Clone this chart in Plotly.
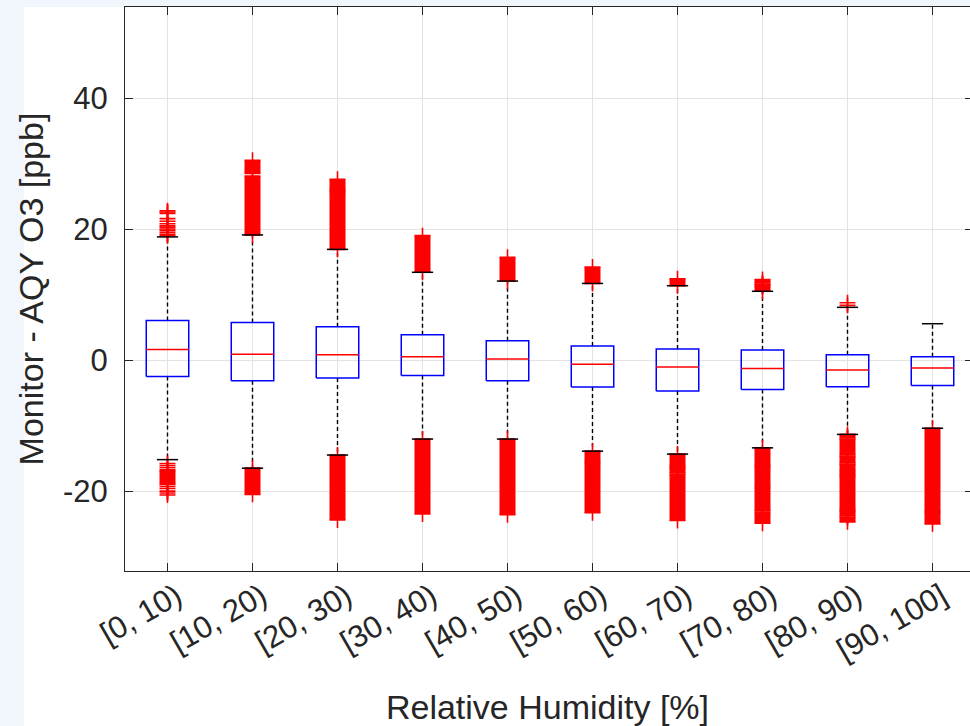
import plotly.graph_objects as go

# ---------------- data ----------------
categories = ["[0, 10)", "[10, 20)", "[20, 30)", "[30, 40)", "[40, 50)",
              "[50, 60)", "[60, 70)", "[70, 80)", "[80, 90)", "[90, 100]"]
q1 = [-2.5, -3.15, -2.75, -2.35, -3.15, -4.1, -4.73, -4.48, -4.07, -3.87]
medians = [1.6, 0.9, 0.8, 0.5, 0.15, -0.63, -1.07, -1.27, -1.53, -1.22]
q3 = [6.05, 5.75, 5.1, 3.87, 2.95, 2.14, 1.68, 1.53, 0.81, 0.51]
whisker_hi = [18.8, 19.1, 16.9, 13.4, 12.06, 11.7, 11.35, 10.5, 8.05, 5.55]
whisker_lo = [-15.2, -16.5, -14.5, -12.06, -12.06, -13.9, -14.35, -13.4, -11.35, -10.4]

y_tick_vals = [-20, 0, 20, 40]
y_tick_text = ["-20", "0", "20", "40"]

# dense outlier clusters (group number, lowest value, highest value)
band_group = [2, 2, 3, 3, 3, 4, 5, 6, 7, 8, 8, 8,
              1, 2, 3, 4, 5, 6, 6, 7, 7, 7, 7, 8, 8, 8, 8,
              9, 9, 9, 9, 9, 9, 9, 9, 10, 10]
band_lo = [19.1, 28.5, 16.9, 25.6, 26.1, 13.4, 12.06, 11.7, 11.35, 10.5, 11.4, 11.8,
           -19.0, -20.5, -24.4, -23.5, -23.6, -15.6, -23.3, -16.1, -16.4, -17.2, -24.5,
           -16.1, -19.3, -23.0, -24.9,
           -11.85, -14.5, -15.7, -16.85, -17.6, -22.9, -23.8, -24.7, -23.1, -25.0]
band_hi = [28.1, 30.5, 25.4, 25.9, 27.6, 19.0, 15.7, 14.2, 12.4, 11.2, 11.6, 12.3,
           -16.9, -16.5, -14.5, -12.06, -12.06, -13.9, -15.8, -14.35, -16.3, -16.6, -17.4,
           -13.4, -16.3, -19.5, -23.2,
           -11.35, -12.05, -14.7, -15.9, -17.05, -17.8, -23.1, -24.0, -10.4, -23.3]

# isolated outliers (group number, value)
out_group = [1, 1, 1, 1, 1, 1, 1, 1, 1, 1, 1, 1, 1,
             1, 1, 1, 1, 1, 1, 1, 1, 1,
             9, 9]
out_val = [22.8, 22.6, 22.4, 21.6, 21.2, 20.8, 20.5, 20.3, 20.0, 19.8, 19.5, 19.2, 19.0,
           -15.8, -16.1, -16.4, -16.7, -19.3, -19.6, -20.0, -20.3, -20.6,
           8.75, 8.35]

# ---------------- styling ----------------
BOX_HALF = 0.25
CAP_HALF = 0.125
INK = "#262626"
FONT = "Liberation Sans, Arial, sans-serif"

positions = list(range(1, len(categories) + 1))

fig = go.Figure()

# whiskers (dashed black)
wx, wy = [], []
for p, a, b, lo, hi in zip(positions, q1, q3, whisker_lo, whisker_hi):
    wx += [p, p, None, p, p, None]
    wy += [b, hi, None, a, lo, None]
fig.add_trace(go.Scatter(x=wx, y=wy, mode="lines",
                         line=dict(color="black", width=1.4, dash="4px,3px"),
                         hoverinfo="skip", showlegend=False))

# boxes (blue)
bx, by = [], []
for p, a, b in zip(positions, q1, q3):
    bx += [p - BOX_HALF, p + BOX_HALF, p + BOX_HALF, p - BOX_HALF, p - BOX_HALF, None]
    by += [a, a, b, b, a, None]
fig.add_trace(go.Scatter(x=bx, y=by, mode="lines",
                         line=dict(color="#0000ff", width=1.5),
                         hoverinfo="skip", showlegend=False))

# medians (red)
mx, my = [], []
for p, m in zip(positions, medians):
    mx += [p - BOX_HALF, p + BOX_HALF, None]
    my += [m, m, None]
fig.add_trace(go.Scatter(x=mx, y=my, mode="lines",
                         line=dict(color="#ff0000", width=1.5),
                         hoverinfo="skip", showlegend=False))

# dense outlier bands
ox, oy = [], []
for g, lo, hi in zip(band_group, band_lo, band_hi):
    ox += [g, g, None]
    oy += [lo, hi, None]
fig.add_trace(go.Scatter(x=ox, y=oy, mode="lines",
                         line=dict(color="#ff0000", width=16),
                         hoverinfo="skip", showlegend=False))

# outlier '+' markers: band ends and isolated values
px_, py_ = [], []
for g, lo, hi in zip(band_group, band_lo, band_hi):
    px_ += [g, g]
    py_ += [lo, hi]
px_ += list(out_group)
py_ += list(out_val)
fig.add_trace(go.Scatter(x=px_, y=py_, mode="markers",
                         marker=dict(symbol="cross-thin", size=11.4,
                                     color="#ff0000",
                                     line=dict(color="#ff0000", width=1.6)),
                         hoverinfo="skip", showlegend=False))

# whisker caps (black)
cx, cy = [], []
for p, lo, hi in zip(positions, whisker_lo, whisker_hi):
    cx += [p - CAP_HALF, p + CAP_HALF, None, p - CAP_HALF, p + CAP_HALF, None]
    cy += [hi, hi, None, lo, lo, None]
fig.add_trace(go.Scatter(x=cx, y=cy, mode="lines",
                         line=dict(color="black", width=1.5),
                         hoverinfo="skip", showlegend=False))

# empty trace so the right-hand (tick-only) axis is drawn
fig.add_trace(go.Scatter(x=[None], y=[None], yaxis="y2", mode="markers",
                         hoverinfo="skip", showlegend=False))

PLOT_L, PLOT_R, PLOT_T, PLOT_B = 125, 970, 7, 571
W, H = 970, 726
pw = PLOT_R - PLOT_L
ph = PLOT_B - PLOT_T
Y_RANGE = [-32.2, 53.9]

fig.update_layout(
    width=W, height=H,
    margin=dict(l=PLOT_L, r=W - PLOT_R, t=PLOT_T, b=H - PLOT_B, pad=0),
    paper_bgcolor="#f0f6fc",
    plot_bgcolor="white",
    font=dict(family=FONT, color=INK),
    shapes=[dict(type="rect", xref="paper", yref="paper", layer="below",
                 x0=(24 - PLOT_L) / pw, x1=1.05,
                 y0=-(H - PLOT_B) / ph - 0.01, y1=1.0,
                 fillcolor="white", line=dict(width=0))],
    xaxis=dict(
        range=[0.5, 0.5 + pw / 85.0],
        tickmode="array", tickvals=positions, ticktext=categories,
        tickangle=-30, tickfont=dict(size=31, color=INK, family=FONT),
        ticks="inside", ticklen=8, tickwidth=1, tickcolor=INK,
        showline=True, linecolor=INK, linewidth=1.2, mirror="ticks",
        showgrid=True, gridcolor="#e3e3e3", gridwidth=1,
        zeroline=False, ticklabelstandoff=-6, ticklabelshift=9,
        title=dict(text="Relative Humidity [%]", font=dict(size=34, color=INK, family=FONT),
                   standoff=40),
        automargin=False,
    ),
    yaxis=dict(
        range=Y_RANGE,
        tickmode="array", tickvals=y_tick_vals, ticktext=y_tick_text,
        tickfont=dict(size=31, color=INK, family=FONT),
        ticks="inside", ticklen=8, tickwidth=1, tickcolor=INK,
        showline=True, linecolor=INK, linewidth=1.2, mirror=False,
        showgrid=True, gridcolor="#e3e3e3", gridwidth=1,
        zeroline=False, ticklabelstandoff=10,
        title=dict(text="Monitor - AQY O3 [ppb]", font=dict(size=34, color=INK, family=FONT),
                   standoff=8),
        automargin=False,
    ),
    yaxis2=dict(
        overlaying="y", side="right", range=Y_RANGE,
        tickmode="array", tickvals=y_tick_vals, showticklabels=False,
        ticks="inside", ticklen=5, tickwidth=1, tickcolor=INK,
        showline=False, showgrid=False, zeroline=False,
    ),
)

fig.write_html("out.html")
